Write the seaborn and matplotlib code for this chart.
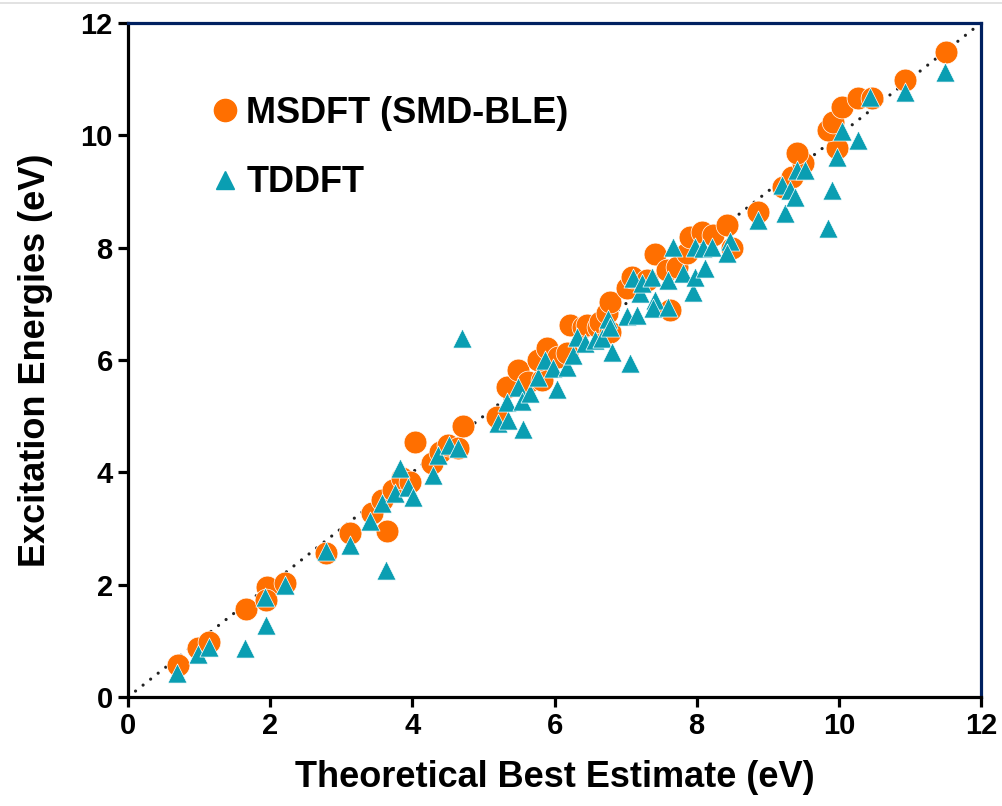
import numpy as np
import pandas as pd
import matplotlib
matplotlib.use("Agg")
import matplotlib.pyplot as plt
import seaborn as sns
from matplotlib.lines import Line2D

# MSDFT (SMD-BLE) points: theoretical best estimate vs. computed (eV)
msdft_tbe = [0.70, 0.99, 1.14, 1.66, 1.96, 1.94, 2.21, 2.79, 3.12, 3.43, 3.64,
             3.57, 3.73, 3.85, 3.97, 4.04, 4.28, 4.39, 4.50, 4.64, 4.71, 5.19,
             5.33, 5.49, 5.63, 5.82, 5.77, 5.89, 6.05, 6.18, 6.22, 6.40, 6.46,
             6.61, 6.64, 6.78, 6.74, 6.78, 7.02, 7.09, 7.30, 7.41, 7.58, 7.72,
             7.63, 7.86, 7.91, 8.08, 8.23, 8.43, 8.50, 8.86, 9.21, 9.34, 9.50,
             9.41, 9.97, 9.85, 9.92, 10.04, 10.27, 10.47, 10.93, 11.51]
msdft_exc = [0.57, 0.87, 0.98, 1.57, 1.96, 1.73, 2.03, 2.56, 2.92, 3.28, 2.96,
             3.51, 3.69, 3.90, 3.83, 4.54, 4.17, 4.36, 4.49, 4.43, 4.83, 4.99,
             5.52, 5.82, 5.61, 5.64, 6.00, 6.21, 6.05, 6.12, 6.62, 6.59, 6.62,
             6.59, 6.68, 6.50, 6.84, 7.03, 7.28, 7.48, 7.42, 7.88, 7.60, 7.66,
             6.89, 7.90, 8.19, 8.28, 8.22, 8.40, 7.99, 8.63, 9.08, 9.26, 9.51,
             9.68, 9.77, 10.09, 10.24, 10.50, 10.66, 10.66, 10.98, 11.48]

# TDDFT points
tddft_tbe = [0.69, 0.99, 1.14, 1.65, 1.94, 1.93, 2.21, 2.79, 3.12, 3.40, 3.63,
             3.57, 3.76, 3.83, 3.94, 4.01, 4.29, 4.36, 4.52, 4.64, 4.70, 5.21,
             5.35, 5.56, 5.33, 5.49, 5.54, 5.66, 5.77, 5.87, 5.98, 6.04, 6.18,
             6.26, 6.32, 6.43, 6.57, 6.67, 6.75, 6.78, 6.81, 7.06, 7.02, 7.16,
             7.10, 7.20, 7.23, 7.37, 7.41, 7.39, 7.60, 7.60, 7.67, 7.81, 7.95,
             7.98, 7.98, 8.09, 8.12, 8.22, 8.47, 8.43, 8.86, 9.24, 9.20, 9.31,
             9.38, 9.41, 9.52, 9.90, 9.85, 9.97, 10.04, 10.27, 10.44, 10.93, 11.49]
tddft_exc = [0.43, 0.77, 0.89, 0.87, 1.28, 1.78, 1.99, 2.60, 2.71, 3.13, 2.26,
             3.45, 3.63, 4.07, 3.74, 3.56, 3.95, 4.31, 4.49, 4.43, 6.39, 4.88,
             4.93, 4.77, 5.25, 5.52, 5.27, 5.41, 5.70, 6.00, 5.86, 5.48, 5.87,
             6.09, 6.41, 6.30, 6.36, 6.39, 6.73, 6.59, 6.14, 5.95, 6.78, 6.80,
             7.46, 7.20, 7.37, 7.48, 7.07, 6.93, 6.94, 7.42, 8.01, 7.55, 7.21,
             7.48, 8.01, 7.99, 7.64, 8.01, 8.12, 7.90, 8.49, 8.62, 9.11, 9.03,
             8.90, 9.38, 9.38, 9.03, 8.35, 9.61, 10.08, 9.92, 10.68, 10.77, 11.13]

ticks = [0, 2, 4, 6, 8, 10, 12]

orange = "#FF6F00"
teal = "#0A9EB2"
navy = "#002060"

df_ms = pd.DataFrame({"tbe": msdft_tbe, "exc": msdft_exc})
df_td = pd.DataFrame({"tbe": tddft_tbe, "exc": tddft_exc})

sns.set_style("ticks")
plt.rcParams["font.family"] = ["Liberation Sans", "DejaVu Sans"]
plt.rcParams["font.weight"] = "bold"
plt.rcParams["text.color"] = "black"
plt.rcParams["axes.labelcolor"] = "black"
plt.rcParams["xtick.color"] = "black"
plt.rcParams["ytick.color"] = "black"

fig = plt.figure(figsize=(10.03, 8.06), dpi=100)
ax = fig.add_axes([0.1276, 0.1352, 0.8505, 0.8363])

# y = x reference line
ax.plot([0, 12], [0, 12], color="#222222", lw=2.3,
        linestyle=(0, (0.01, 3.0)), dash_capstyle="round", zorder=1)

sns.scatterplot(data=df_ms, x="tbe", y="exc", ax=ax, color=orange, marker="o",
                s=270, edgecolor="white", linewidth=0.5, zorder=2)
sns.scatterplot(data=df_td, x="tbe", y="exc", ax=ax, color=teal, marker="^",
                s=190, edgecolor="white", linewidth=0.5, zorder=3)

ax.set_xlim(0, 12)
ax.set_ylim(0, 12)
ax.set_xticks(ticks)
ax.set_yticks(ticks)
ax.tick_params(axis="both", which="major", direction="out", length=7, width=2.3,
               labelsize=21, pad=4, colors="black", bottom=True, left=True,
               top=False, right=False)
for lab in ax.get_xticklabels() + ax.get_yticklabels():
    lab.set_fontweight("bold")

ax.set_xlabel("Theoretical Best Estimate (eV)", fontsize=26, fontweight="bold",
              labelpad=14, color="black")
ax.set_ylabel("Excitation Energies (eV)", fontsize=26, fontweight="bold",
              labelpad=20, color="black")

for side in ["left", "bottom"]:
    ax.spines[side].set_color("black")
    ax.spines[side].set_linewidth(2.3)
for side in ["top", "right"]:
    ax.spines[side].set_visible(True)
    ax.spines[side].set_color(navy)
    ax.spines[side].set_linewidth(2.3)

handles = [
    Line2D([], [], marker="o", color=orange, linestyle="none", markersize=16),
    Line2D([], [], marker="^", color=teal, linestyle="none", markersize=13),
]
leg = ax.legend(handles, ["MSDFT (SMD-BLE)", "TDDFT"], loc="upper left",
                bbox_to_anchor=(0.05, 0.94), frameon=False, handletextpad=0.0,
                handlelength=1.2, labelspacing=0.95,
                prop={"size": 26, "weight": "bold"})
for t in leg.get_texts():
    t.set_color("black")

# faint screenshot border at the very top
fig.add_artist(Line2D([0, 1], [0.9965, 0.9965], color="#dddddd", lw=1.2))

fig.savefig("out.png", dpi=100)
